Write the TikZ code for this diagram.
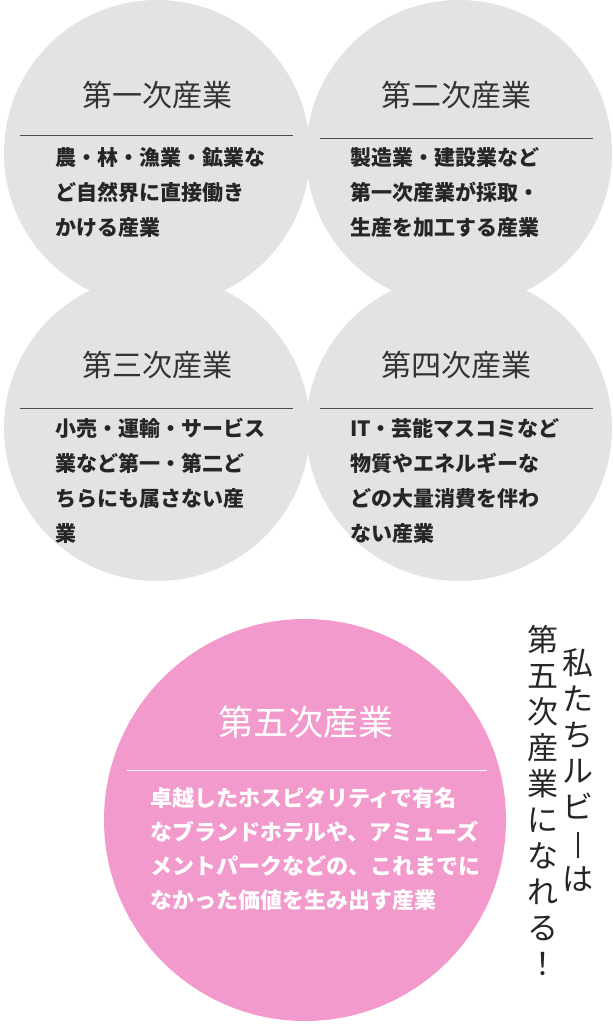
\documentclass[tikz,border=0pt]{standalone}
\usepackage{fontspec}
\setmainfont{Noto Sans CJK JP}
\begin{document}
\begin{tikzpicture}[x=1pt,y=-1pt,
  gc/.style={fill=gray!22,draw=none},
  ttl/.style={font=\fontsize{30}{30}\selectfont,text=black!80},
  bd/.style={font=\fontsize{21}{35}\bfseries\selectfont,align=left,anchor=north west,text=black!85,inner sep=0},
  vt/.style={font=\fontsize{31}{36}\selectfont,align=center,anchor=north,inner sep=0,text=black!85}]
\useasboundingbox (0,0) rectangle (613,1026);
\fill[gc] (157,153) circle (153);
\fill[gc] (459,153) circle (153);
\fill[gc] (157,428) circle (153);
\fill[gc] (459,428) circle (153);
\fill[fill={rgb,255:red,242;green,154;blue,203}] (305,820) circle (201);
\node[ttl] (t1) at (157,95) {第一次産業};
\node[ttl] (t2) at (456,95) {第二次産業};
\node[ttl] (t3) at (157,365) {第三次産業};
\node[ttl] (t4) at (456,365) {第四次産業};
\draw[black!70] (20,135) -- (293,135);
\draw[black!70] (320,138) -- (593,138);
\draw[black!70] (20,408) -- (293,408);
\draw[black!70] (320,408) -- (593,408);
\node[bd] (b1) at (55,147) {農・林・漁業・鉱業な\\ど自然界に直接働き\\かける産業};
\node[bd] (b2) at (350,147) {製造業・建設業など\\第一次産業が採取・\\生産を加工する産業};
\node[bd] (b3) at (55,418) {小売・運輸・サービス\\業など第一・第二ど\\ちらにも属さない産\\業};
\node[bd] (b4) at (350,418) {IT・芸能マスコミなど\\物質やエネルギーな\\どの大量消費を伴わ\\ない産業};
\node[ttl,text=white,font=\fontsize{35}{35}\selectfont] (t5) at (306,722) {第五次産業};
\draw[white] (127,770) -- (487,770);
\node[bd,text=white,font=\fontsize{22}{34}\bfseries\selectfont] (b5) at (150,787) {卓越したホスピタリティで有名\\なブランドホテルや、アミューズ\\メントパークなどの、これまでに\\なかった価値を生み出す産業};
\node[vt] (v1) at (578,648) {私\\た\\ち\\ル\\ビ\\\raisebox{-4pt}{\rule{1.3pt}{26pt}}\\は};
\node[vt] (v2) at (543,625) {第\\五\\次\\産\\業\\に\\な\\れ\\る\\！};
\end{tikzpicture}
\end{document}
